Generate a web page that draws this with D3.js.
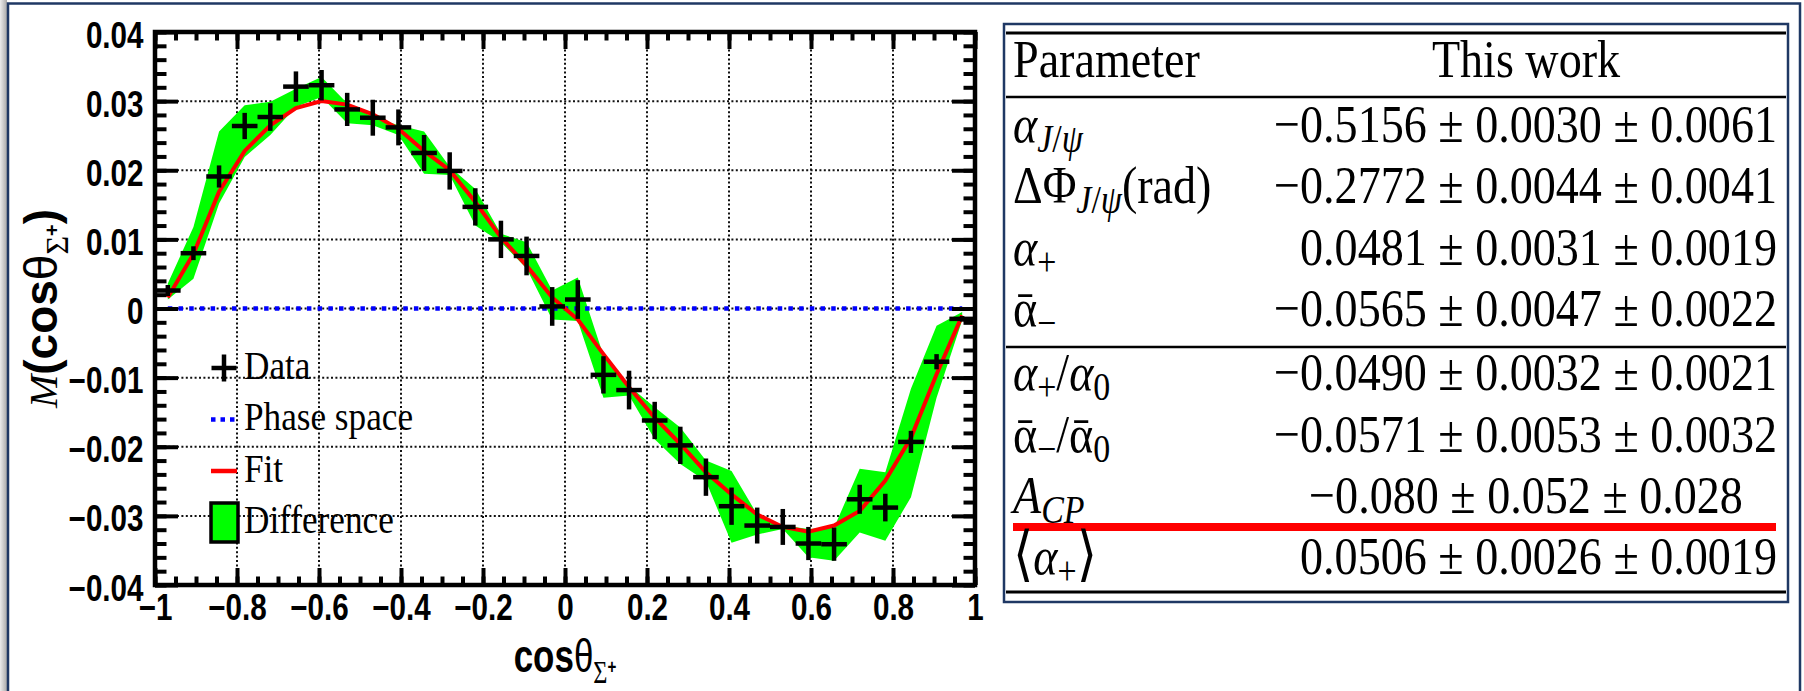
<!DOCTYPE html>
<html>
<head>
<meta charset="utf-8">
<script src="https://cdn.jsdelivr.net/npm/d3@7"></script>
<style>
  html, body { margin: 0; padding: 0; background: #fff; }
  svg { display: block; }
</style>
</head>
<body>
<div id="chart"></div>
<script>
// bin centres of cos(theta_Sigma+), 32 bins
const cosBins = [-0.96875, -0.90625, -0.84375, -0.78125, -0.71875, -0.65625, -0.59375, -0.53125,
                 -0.46875, -0.40625, -0.34375, -0.28125, -0.21875, -0.15625, -0.09375, -0.03125,
                  0.03125,  0.09375,  0.15625,  0.21875,  0.28125,  0.34375,  0.40625,  0.46875,
                  0.53125,  0.59375,  0.65625,  0.71875,  0.78125,  0.84375,  0.90625,  0.96875];

// measured moment M(cos theta) and its error
const dataM = [0.0026, 0.0080, 0.0191, 0.0264, 0.0277, 0.0321, 0.0323, 0.0288,
               0.0276, 0.0262, 0.0225, 0.0199, 0.0147, 0.0100, 0.0076, 0.0003,
               0.0013, -0.0096, -0.0118, -0.0162, -0.0198, -0.0244, -0.0286, -0.0314,
               -0.0316, -0.0340, -0.0341, -0.0276, -0.0288, -0.0193, -0.0077, -0.0015];
const dataErr = [0.0008, 0.0010, 0.0016, 0.0019, 0.0020, 0.0022, 0.0022, 0.0024,
                 0.0026, 0.0026, 0.0026, 0.0027, 0.0027, 0.0027, 0.0028, 0.0028,
                 0.0028, 0.0027, 0.0028, 0.0027, 0.0027, 0.0027, 0.0027, 0.0026,
                 0.0026, 0.0024, 0.0024, 0.0021, 0.0020, 0.0016, 0.0011, 0.0004];

// fit curve
const fitM = [0.0016, 0.0079, 0.0169, 0.0228, 0.0265, 0.0290, 0.0300, 0.0295,
              0.0281, 0.0260, 0.0228, 0.0200, 0.0154, 0.0103, 0.0062, 0.0016,
              -0.0016, -0.0066, -0.0114, -0.0158, -0.0196, -0.0237, -0.0269, -0.0298,
              -0.0316, -0.0323, -0.0314, -0.0293, -0.0249, -0.0187, -0.0095, -0.0010];

// phase space expectation
const phaseSpaceM = [0, 0, 0, 0, 0, 0, 0, 0, 0, 0, 0, 0, 0, 0, 0, 0,
                     0, 0, 0, 0, 0, 0, 0, 0, 0, 0, 0, 0, 0, 0, 0, 0];

// "Difference" band edges
const diffHigh = [0.0036, 0.0118, 0.0256, 0.0294, 0.0299, 0.0318, 0.0335, 0.0297,
                  0.0277, 0.0265, 0.0256, 0.0205, 0.0173, 0.0108, 0.0096, 0.0026,
                  0.0045, -0.0068, -0.0112, -0.0143, -0.0172, -0.0220, -0.0235, -0.0298,
                  -0.0314, -0.0319, -0.0317, -0.0232, -0.0237, -0.0116, -0.0025, -0.0005];
const diffLow = [0.0013, 0.0043, 0.0152, 0.0219, 0.0251, 0.0292, 0.0306, 0.0268,
                 0.0265, 0.0251, 0.0195, 0.0193, 0.0120, 0.0096, 0.0058, -0.0016,
                 -0.0018, -0.0129, -0.0126, -0.0189, -0.0225, -0.0250, -0.0339, -0.0327,
                 -0.0319, -0.0360, -0.0365, -0.0324, -0.0336, -0.0273, -0.0129, -0.0017];

const xTicks = [-1, -0.8, -0.6, -0.4, -0.2, 0, 0.2, 0.4, 0.6, 0.8, 1];
const xTickLabels = ["\u22121", "\u22120.8", "\u22120.6", "\u22120.4", "\u22120.2", "0", "0.2", "0.4", "0.6", "0.8", "1"];
const yTicks = [-0.04, -0.03, -0.02, -0.01, 0, 0.01, 0.02, 0.03, 0.04];
const yTickLabels = ["\u22120.04", "\u22120.03", "\u22120.02", "\u22120.01", "0", "0.01", "0.02", "0.03", "0.04"];

const legendLabels = ["Data", "Phase space", "Fit", "Difference"];

const tableHeader = ["Parameter", "This work"];
const paramLabels = ["α_{J/ψ}", "ΔΦ_{J/ψ}(rad)", "α_{+}", "ᾱ_{−}",
                     "α_{+}/α_{0}", "ᾱ_{−}/ᾱ_{0}", "A_{CP}", "⟨α_{+}⟩"];
const paramValues = ["−0.5156 ± 0.0030 ± 0.0061",
                     "−0.2772 ± 0.0044 ± 0.0041",
                     "0.0481 ± 0.0031 ± 0.0019",
                     "−0.0565 ± 0.0047 ± 0.0022",
                     "−0.0490 ± 0.0032 ± 0.0021",
                     "−0.0571 ± 0.0053 ± 0.0032",
                     "−0.080 ± 0.052 ± 0.028",
                     "0.0506 ± 0.0026 ± 0.0019"];

const W = 1804, H = 691;
const SANS = "'Liberation Sans', Arial, Helvetica, sans-serif";
const SERIF = "'Liberation Serif', 'Times New Roman', serif";

const svg = d3.select("#chart").append("svg")
    .attr("width", W)
    .attr("height", H);

svg.append("rect").attr("width", W).attr("height", H).attr("fill", "#fff");

// slide border and shadow on the left
const defs = svg.append("defs");
const grad = defs.append("linearGradient").attr("id", "edge").attr("x1", 0).attr("x2", 1);
grad.append("stop").attr("offset", 0).attr("stop-color", "#ececec");
grad.append("stop").attr("offset", 1).attr("stop-color", "#a9a9a9");
svg.append("rect").attr("x", 0).attr("y", 0).attr("width", 7).attr("height", H).attr("fill", "url(#edge)");
svg.append("path")
    .attr("d", `M8,${H} V3.5 H1800 V${H}`)
    .attr("fill", "none")
    .attr("stroke", "#1f3864")
    .attr("stroke-width", 2.5);

// ---------------- plot ----------------
const x = d3.scaleLinear().domain([-1, 1]).range([155, 975]);
const y = d3.scaleLinear().domain([-0.04, 0.04]).range([585, 32]);
const [X0, X1] = x.range();
const [Y0, Y1] = y.range();

// dotted grid
const grid = svg.append("g")
    .attr("stroke", "#111")
    .attr("stroke-width", 2)
    .attr("stroke-dasharray", "2,2.4");
grid.selectAll(".gx").data(xTicks.filter(d => d > -1 && d < 1)).join("line")
    .attr("x1", d => x(d)).attr("x2", d => x(d))
    .attr("y1", Y1).attr("y2", Y0);
grid.selectAll(".gy").data(yTicks.filter(d => d > -0.04 && d < 0.04)).join("line")
    .attr("x1", X0).attr("x2", X1)
    .attr("y1", d => y(d)).attr("y2", d => y(d));

// green difference band
const band = d3.area()
    .x((d, i) => x(cosBins[i]))
    .y0((d, i) => y(diffLow[i]))
    .y1((d, i) => y(diffHigh[i]));
svg.append("path").datum(cosBins).attr("d", band).attr("fill", "#00ff00");

const curve = d3.line().x((d, i) => x(cosBins[i])).y(d => y(d));

// phase space
svg.append("path").datum(phaseSpaceM)
    .attr("d", curve)
    .attr("fill", "none")
    .attr("stroke", "#0000ff")
    .attr("stroke-width", 4.5)
    .attr("stroke-dasharray", "4.5,6.2");

// fit
svg.append("path").datum(fitM)
    .attr("d", curve)
    .attr("fill", "none")
    .attr("stroke", "#ff0000")
    .attr("stroke-width", 4);

// data crosses
const half = (cosBins[1] - cosBins[0]) / 2;
const pts = svg.append("g").attr("stroke", "#000").attr("stroke-width", 4.5);
pts.selectAll(".h").data(dataM).join("line")
    .attr("x1", (d, i) => x(cosBins[i] - half))
    .attr("x2", (d, i) => x(cosBins[i] + half))
    .attr("y1", d => y(d)).attr("y2", d => y(d));
pts.selectAll(".v").data(dataM).join("line")
    .attr("x1", (d, i) => x(cosBins[i]))
    .attr("x2", (d, i) => x(cosBins[i]))
    .attr("y1", (d, i) => y(d + dataErr[i]))
    .attr("y2", (d, i) => y(d - dataErr[i]));

// axes: ticks inside on all four sides
function styleAxis(g) {
    g.select(".domain").remove();
    g.selectAll(".tick line").attr("stroke", "#000").attr("stroke-width", 4);
}
function noText(g) { g.selectAll("text").remove(); }

svg.append("g").attr("transform", `translate(0,${Y0})`)
    .call(d3.axisBottom(x).tickValues(x.ticks(40)).tickSizeInner(-8.5).tickSizeOuter(0).tickFormat(""))
    .call(styleAxis).call(noText);
svg.append("g").attr("transform", `translate(0,${Y1})`)
    .call(d3.axisTop(x).tickValues(x.ticks(40)).tickSizeInner(-8.5).tickSizeOuter(0).tickFormat(""))
    .call(styleAxis).call(noText);
svg.append("g").attr("transform", `translate(0,${Y1})`)
    .call(d3.axisTop(x).tickValues(xTicks).tickSizeInner(-17).tickSizeOuter(0).tickFormat(""))
    .call(styleAxis).call(noText);
svg.append("g").attr("transform", `translate(${X0},0)`)
    .call(d3.axisLeft(y).tickValues(y.ticks(40)).tickSizeInner(-11.5).tickSizeOuter(0).tickFormat(""))
    .call(styleAxis).call(noText);
svg.append("g").attr("transform", `translate(${X1},0)`)
    .call(d3.axisRight(y).tickValues(y.ticks(40)).tickSizeInner(-11.5).tickSizeOuter(0).tickFormat(""))
    .call(styleAxis).call(noText);
svg.append("g").attr("transform", `translate(${X1},0)`)
    .call(d3.axisRight(y).tickValues(yTicks).tickSizeInner(-23).tickSizeOuter(0).tickFormat(""))
    .call(styleAxis).call(noText);

const xAxis = svg.append("g").attr("transform", `translate(0,${Y0})`)
    .call(d3.axisBottom(x).tickValues(xTicks).tickSizeInner(-17).tickSizeOuter(0)
        .tickFormat((d, i) => xTickLabels[i]))
    .call(styleAxis);
xAxis.attr("font-family", SANS).attr("font-size", 37).attr("font-weight", "bold");
xAxis.selectAll("text")
    .attr("y", 35).attr("dy", null)
    .attr("fill", "#000")
    .attr("transform", "scale(0.8,1)");

const yAxis = svg.append("g").attr("transform", `translate(${X0},0)`)
    .call(d3.axisLeft(y).tickValues(yTicks).tickSizeInner(-23).tickSizeOuter(0)
        .tickFormat((d, i) => yTickLabels[i]))
    .call(styleAxis);
yAxis.attr("font-family", SANS).attr("font-size", 37).attr("font-weight", "bold");
yAxis.selectAll("text")
    .attr("x", 0).attr("y", 15).attr("dy", null)
    .attr("fill", "#000")
    .attr("transform", "translate(-11.5,0) scale(0.8,1)");

// frame
svg.append("rect")
    .attr("x", X0).attr("y", Y1)
    .attr("width", X1 - X0).attr("height", Y0 - Y1)
    .attr("fill", "none")
    .attr("stroke", "#000")
    .attr("stroke-width", 4.5);

// axis titles
const xTitle = svg.append("text")
    .attr("transform", `translate(${(X0 + X1) / 2},672) scale(0.76,1)`)
    .attr("text-anchor", "middle");
xTitle.append("tspan").attr("font-family", SANS).attr("font-weight", "bold").attr("font-size", 46).text("cos");
xTitle.append("tspan").attr("font-family", SANS).attr("font-size", 46).text("θ");
xTitle.append("tspan").attr("font-family", SERIF).attr("font-size", 32).attr("dy", 11).text("Σ");
xTitle.append("tspan").attr("font-family", SANS).attr("font-weight", "bold").attr("font-size", 20).attr("dy", -9).text("+");

const yTitle = svg.append("text")
    .attr("transform", `translate(57,${(Y0 + Y1) / 2}) rotate(-90)`)
    .attr("text-anchor", "middle");
yTitle.append("tspan").attr("font-family", SERIF).attr("font-style", "italic").attr("font-size", 40).text("M");
yTitle.append("tspan").attr("font-family", SANS).attr("font-weight", "bold").attr("font-size", 46).text("(cos");
yTitle.append("tspan").attr("font-family", SANS).attr("font-size", 46).text("θ");
yTitle.append("tspan").attr("font-family", SERIF).attr("font-size", 32).attr("dy", 11).text("Σ");
yTitle.append("tspan").attr("font-family", SANS).attr("font-weight", "bold").attr("font-size", 20).attr("dy", -9).text("+");
yTitle.append("tspan").attr("font-family", SANS).attr("font-weight", "bold").attr("font-size", 46).attr("dy", -2).text(")");

// legend
const legend = svg.append("g").attr("transform", "translate(224,368)");
const rows = legend.selectAll("g").data(legendLabels).join("g")
    .attr("transform", (d, i) => `translate(0,${i * 51.5})`);
rows.filter((d, i) => i === 0).each(function () {
    const g = d3.select(this).append("g").attr("stroke", "#000").attr("stroke-width", 4.5);
    g.append("line").attr("x1", -12.5).attr("x2", 12.5);
    g.append("line").attr("y1", -13.5).attr("y2", 13.5);
});
rows.filter((d, i) => i === 1).append("line")
    .attr("x1", -13).attr("x2", 13)
    .attr("stroke", "#0000ff").attr("stroke-width", 4.5).attr("stroke-dasharray", "4.5,5");
rows.filter((d, i) => i === 2).append("line")
    .attr("x1", -13).attr("x2", 13)
    .attr("stroke", "#ff0000").attr("stroke-width", 4.5);
rows.filter((d, i) => i === 3).append("rect")
    .attr("x", -13).attr("y", -19.5).attr("width", 27).attr("height", 39)
    .attr("fill", "#00ff00").attr("stroke", "#000").attr("stroke-width", 3.5);
rows.append("text")
    .attr("transform", "translate(20,10.5) scale(0.88,1)")
    .attr("font-family", SERIF)
    .attr("font-size", 40)
    .attr("fill", "#000")
    .text(d => d);

// ---------------- table ----------------
const T = { left: 1004, right: 1788, top: 24, bottom: 602, labelX: 1013, valueRight: 1777, valueMid: 1526 };
const FS = 53, SUB = 39, SX = 0.87;
const rowBase = i => 142 + i * 61.3 + (i >= 4 ? 3 : 0);

const table = svg.append("g");
table.append("rect")
    .attr("x", T.left).attr("y", T.top)
    .attr("width", T.right - T.left).attr("height", T.bottom - T.top)
    .attr("fill", "none").attr("stroke", "#1f3864").attr("stroke-width", 2.5);

const rules = [[33, 3], [97, 2.5], [347, 2.5], [592, 3]];
table.selectAll(".rule").data(rules).join("line")
    .attr("x1", T.left + 2).attr("x2", T.right - 2)
    .attr("y1", d => d[0]).attr("y2", d => d[0])
    .attr("stroke", "#000").attr("stroke-width", d => d[1]);
table.append("line")
    .attr("x1", 1013).attr("x2", 1776)
    .attr("y1", 527).attr("y2", 527)
    .attr("stroke", "#ff0000").attr("stroke-width", 8);

// header
table.append("text")
    .attr("transform", `translate(${T.labelX},77) scale(${SX},1)`)
    .attr("font-family", SERIF).attr("font-size", FS)
    .text(tableHeader[0]);
table.append("text")
    .attr("transform", `translate(${T.valueMid},77) scale(${SX},1)`)
    .attr("text-anchor", "middle")
    .attr("font-family", SERIF).attr("font-size", FS)
    .text(tableHeader[1]);

// split "α_{J/ψ}" into plain / subscript runs, then into italic / upright runs
const ITALIC = /[αψJCPA]/;
function mathRuns(str) {
    const parts = [];
    const re = /_\{([^}]*)\}/g;
    let last = 0, m;
    while ((m = re.exec(str))) {
        if (m.index > last) parts.push({ t: str.slice(last, m.index), sub: false });
        parts.push({ t: m[1], sub: true });
        last = re.lastIndex;
    }
    if (last < str.length) parts.push({ t: str.slice(last), sub: false });
    const runs = [];
    parts.forEach(p => {
        for (const ch of p.t) {
            const it = ch === "\u0304" ? (runs.length ? runs[runs.length - 1].it : false) : ITALIC.test(ch);
            const br = ch === "⟨" || ch === "⟩";
            const prev = runs[runs.length - 1];
            if (prev && prev.sub === p.sub && prev.it === it && prev.br === br) prev.t += ch;
            else runs.push({ t: ch, sub: p.sub, it: it, br: br });
        }
    });
    return runs;
}

paramLabels.forEach((lab, i) => {
    const t = table.append("text")
        .attr("transform", `translate(${T.labelX},${rowBase(i)}) scale(${SX},1)`)
        .attr("font-family", SERIF).attr("font-size", FS);
    let shift = 0;
    mathRuns(lab).forEach(r => {
        const want = r.sub ? 10 : 0;
        const ts = t.append("tspan")
            .attr("font-size", r.br ? 60 : (r.sub ? SUB : FS))
            .attr("font-style", r.it ? "italic" : "normal")
            .attr("dy", want - shift)
            .text(r.t);
        if (r.br) ts.attr("font-family", "'DejaVu Serif', serif").attr("font-weight", 300);
        shift = want;
    });
});

const centred = paramLabels.indexOf("A_{CP}");
table.selectAll(".val").data(paramValues).join("text")
    .attr("transform", (d, i) => `translate(${i === centred ? T.valueMid : T.valueRight},${rowBase(i)}) scale(${SX},1)`)
    .attr("text-anchor", (d, i) => i === centred ? "middle" : "end")
    .attr("font-family", SERIF).attr("font-size", FS)
    .text(d => d);
</script>
</body>
</html>
